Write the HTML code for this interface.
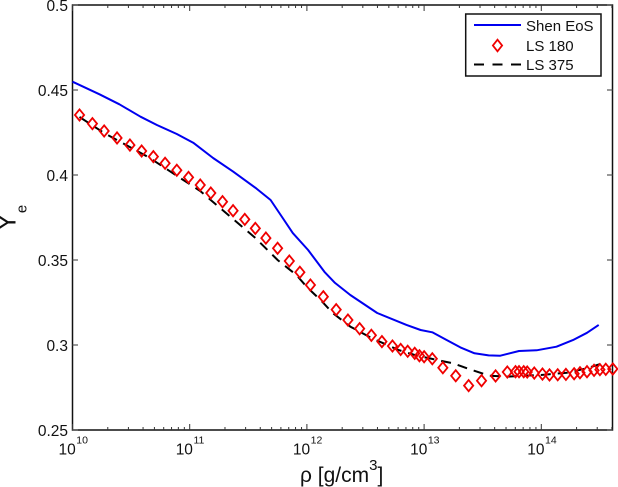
<!DOCTYPE html>
<html>
<head>
<meta charset="utf-8">
<style>
html,body{margin:0;padding:0;background:#fff;}
svg{display:block;font-family:"Liberation Sans",sans-serif;}
</style>
</head>
<body>
<svg id="chart" width="618" height="487" viewBox="0 0 618 487" xmlns="http://www.w3.org/2000/svg"></svg>
<script>
var xTickExponents = [10, 11, 12, 13, 14];
var yTickValues = [0.25, 0.3, 0.35, 0.4, 0.45, 0.5];
var yTickLabels = ["0.25", "0.3", "0.35", "0.4", "0.45", "0.5"];
var minorMultipliers = [2, 3, 4, 5, 6, 7, 8, 9];

var shenLogRho = [10.00, 10.23, 10.40, 10.58, 10.72, 10.89, 11.03, 11.20, 11.37, 11.57, 11.69, 11.785, 11.88, 12.01, 12.15, 12.24, 12.37, 12.60, 12.85, 12.97, 13.07, 13.19, 13.31, 13.43, 13.55, 13.65, 13.81, 13.96, 14.13, 14.27, 14.39, 14.49];
var shenYe = [0.4549, 0.4475, 0.4416, 0.4343, 0.4294, 0.4241, 0.4190, 0.4100, 0.4020, 0.3920, 0.3853, 0.3756, 0.3658, 0.3559, 0.3430, 0.3365, 0.3294, 0.3188, 0.3118, 0.3088, 0.3075, 0.3030, 0.2986, 0.2951, 0.2939, 0.2937, 0.2965, 0.2969, 0.2990, 0.3029, 0.3072, 0.3118];

var ls180LogRho = [10.06, 10.17, 10.27, 10.38, 10.49, 10.59, 10.69, 10.79, 10.89, 10.99, 11.09, 11.18, 11.28, 11.37, 11.47, 11.56, 11.65, 11.75, 11.85, 11.94, 12.03, 12.14, 12.25, 12.35, 12.45, 12.55, 12.64, 12.73, 12.80, 12.86, 12.92, 12.96, 13.00, 13.07, 13.16, 13.27, 13.38, 13.49, 13.61, 13.71, 13.78, 13.81, 13.85, 13.88, 13.94, 14.01, 14.07, 14.14, 14.21, 14.28, 14.33, 14.39, 14.45, 14.50, 14.55, 14.61];
var ls180Ye = [0.4353, 0.4302, 0.4259, 0.4218, 0.4176, 0.4141, 0.4108, 0.4069, 0.4028, 0.3986, 0.3941, 0.3894, 0.3843, 0.3790, 0.3739, 0.3686, 0.3629, 0.3569, 0.3494, 0.3428, 0.3353, 0.3284, 0.3208, 0.3147, 0.3096, 0.3057, 0.3020, 0.2994, 0.2974, 0.2963, 0.2951, 0.2937, 0.2931, 0.2919, 0.2866, 0.2819, 0.2761, 0.2790, 0.2818, 0.2841, 0.2843, 0.2843, 0.2843, 0.2841, 0.2835, 0.2829, 0.2824, 0.2825, 0.2827, 0.2831, 0.2837, 0.2843, 0.2851, 0.2855, 0.2857, 0.2859];

var ls375LogRho = [10.06, 10.27, 10.66, 10.88, 11.09, 11.28, 11.56, 11.75, 11.91, 12.00, 12.13, 12.22, 12.37, 12.55, 12.78, 12.92, 13.11, 13.25, 13.39, 13.56, 13.71, 14.02, 14.22, 14.39, 14.52];
var ls375Ye = [0.4341, 0.4247, 0.4100, 0.4000, 0.3906, 0.3794, 0.3630, 0.3500, 0.3412, 0.3341, 0.3255, 0.3188, 0.3108, 0.3041, 0.2971, 0.2941, 0.2912, 0.2892, 0.2857, 0.2819, 0.2814, 0.2825, 0.2837, 0.2863, 0.2892];

var svg = document.getElementById('chart');
var NS = 'http://www.w3.org/2000/svg';
var plotLeft = 72.5, plotRight = 612.5, plotTop = 5, plotBottom = 430;
var xMin = 10, decadeWidth = 117.2;
var yMin = 0.25, yMax = 0.5;

function xScale(logValue) { return plotLeft + (logValue - xMin) * decadeWidth; }
function yScale(value) { return plotBottom - (value - yMin) / (yMax - yMin) * (plotBottom - plotTop); }

function make(tag, attrs, parent) {
  var el = document.createElementNS(NS, tag);
  for (var k in attrs) { el.setAttribute(k, attrs[k]); }
  (parent || svg).appendChild(el);
  return el;
}
function pointsFor(xs, ys) {
  return xs.map(function (v, i) { return xScale(v).toFixed(1) + ',' + yScale(ys[i]).toFixed(1); }).join(' ');
}

/* axis box */
var box = make('rect', {x: plotLeft, y: plotTop, width: plotRight - plotLeft, height: plotBottom - plotTop, fill: '#fff', stroke: '#111', 'stroke-width': 1.5});



/* x ticks */
xTickExponents.forEach(function (exp) {
  var px = xScale(exp);
  [[plotBottom, plotBottom - 6], [plotTop, plotTop + 6]].forEach(function (p) {
    var t = make('line', {x1: px, x2: px, y1: p[0], y2: p[1], stroke: '#333', 'stroke-width': 1});
    
    
  });
  minorMultipliers.forEach(function (m) {
    var mx = xScale(exp + Math.log10(m));
    if (mx > plotRight) { return; }
    [[plotBottom, plotBottom - 3], [plotTop, plotTop + 3]].forEach(function (p) {
      var t = make('line', {x1: mx, x2: mx, y1: p[0], y2: p[1], stroke: '#333', 'stroke-width': 1});
      
      
    });
  });
  var label = make('text', {x: px - 14, y: 454.5, 'font-size': 15.5, fill: '#111'});
  
  
  label.textContent = '10';
  var sup = make('tspan', {dx: 0.5, dy: -11, 'font-size': 10.5}, label);
  sup.textContent = String(exp);
});

/* y ticks */
yTickValues.forEach(function (v, i) {
  var py = yScale(v);
  var t1 = make('line', {x1: plotLeft, x2: plotLeft + 5.5, y1: py, y2: py, stroke: '#555', 'stroke-width': 1.2});
  
  
  var t2 = make('line', {x1: plotRight, x2: plotRight - 5.5, y1: py, y2: py, stroke: '#555', 'stroke-width': 1.2});
  
  
  var label = make('text', {x: 68, y: py + 6, 'font-size': 15.5, 'text-anchor': 'end', fill: '#111'});
  
  
  label.textContent = yTickLabels[i];
});

/* series */
var ls375Line = make('polyline', {points: pointsFor(ls375LogRho, ls375Ye), fill: 'none', stroke: '#000', 'stroke-width': 2, 'stroke-dasharray': '10 7'});



var shenLine = make('polyline', {points: pointsFor(shenLogRho, shenYe), fill: 'none', stroke: '#0000f0', 'stroke-width': 2, 'stroke-linejoin': 'round'});



function diamond(cx, cy, rx, ry) {
  return cx + ',' + (cy - ry) + ' ' + (cx + rx) + ',' + cy + ' ' + cx + ',' + (cy + ry) + ' ' + (cx - rx) + ',' + cy;
}
ls180LogRho.forEach(function (v, i) {
  var d = make('polygon', {points: diamond(xScale(v), yScale(ls180Ye[i]), 4.6, 5.6), fill: 'none', stroke: '#f00000', 'stroke-width': 1.8});
  
  
});

/* axis titles */
var xTitle = make('text', {x: 300, y: 482, 'font-size': 21, fill: '#111'});


xTitle.textContent = 'ρ [g/cm';
var xSup = make('tspan', {dy: -12, 'font-size': 15}, xTitle);
xSup.textContent = '3';
var xEnd = make('tspan', {dy: 12}, xTitle);
xEnd.textContent = ']';

var yTitle = make('text', {transform: 'translate(15.7,231) rotate(-90)', 'font-size': 26, fill: '#111'});


yTitle.textContent = 'Y';
var ySub = make('tspan', {dx: 0.5, dy: 11, 'font-size': 15}, yTitle);
ySub.textContent = 'e';

/* legend */
var legend = make('g', {});


var legendBox = make('rect', {x: 465.7, y: 14, width: 135.3, height: 62, fill: '#fff', stroke: '#111', 'stroke-width': 1.5}, legend);



var legendShen = make('line', {x1: 474, x2: 521, y1: 25, y2: 25, stroke: '#0000f0', 'stroke-width': 2}, legend);


var legendDiamond = make('polygon', {points: diamond(497.5, 45.5, 4.6, 5.8), fill: 'none', stroke: '#f00000', 'stroke-width': 1.8}, legend);


var legendDash = make('line', {x1: 474, x2: 521, y1: 64.5, y2: 64.5, stroke: '#000', 'stroke-width': 2, 'stroke-dasharray': '10 8.5'}, legend);



var t1 = make('text', {x: 526, y: 31, 'font-size': 15, fill: '#111'}, legend);


t1.textContent = 'Shen EoS';
var t2 = make('text', {x: 526, y: 51, 'font-size': 15, fill: '#111'}, legend);


t2.textContent = 'LS 180';
var t3 = make('text', {x: 526, y: 70, 'font-size': 15, fill: '#111'}, legend);


t3.textContent = 'LS 375';
</script>
</body>
</html>
